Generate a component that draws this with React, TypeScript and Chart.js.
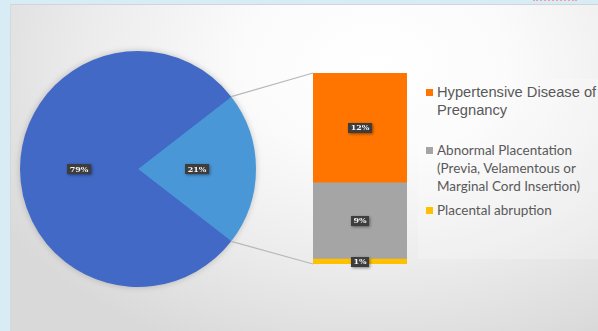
import React, { useEffect, useRef } from "react";
import { Chart, registerables } from "chart.js";

Chart.register(...registerables);

// ---- Data ----
const pieLabels = ["Selected causes", "Other"];
const pieValues = [21, 79];
const pieText = ["21%", "79%"];
const pieColors = ["#4a97d7", "#4169c5"];

const barCategories = [
  "Hypertensive Disease of Pregnancy",
  "Abnormal Placentation (Previa, Velamentous or Marginal Cord Insertion)",
  "Placental abruption",
];
const barValues = [12.1, 8.4, 0.55];
const barText = ["12%", "9%", "1%"];
const barColors = ["#ff7500", "#a5a5a5", "#ffc000"];
const legendLines = [
  ["Hypertensive Disease of", "Pregnancy"],
  ["Abnormal Placentation", "(Previa, Velamentous or", "Marginal Cord Insertion)"],
  ["Placental abruption"],
];

const W = 598;
const H = 331;

function drawTag(ctx: CanvasRenderingContext2D, text: string, x: number, y: number) {
  ctx.save();
  ctx.font = "bold 8px 'DejaVu Serif', 'Liberation Serif', serif";
  const tw = ctx.measureText(text).width;
  const bw = Math.round(tw + 5);
  const bh = 10;
  ctx.shadowColor = "rgba(0,0,0,0.45)";
  ctx.shadowBlur = 3;
  ctx.shadowOffsetX = 1;
  ctx.shadowOffsetY = 1;
  ctx.fillStyle = "#3d3d3d";
  ctx.fillRect(Math.round(x - bw / 2), Math.round(y - bh / 2), bw, bh);
  ctx.shadowColor = "transparent";
  ctx.fillStyle = "#f4f4f4";
  ctx.textAlign = "center";
  ctx.textBaseline = "middle";
  ctx.fillText(text, x, y + 0.5);
  ctx.restore();
}

export default function App() {
  const pieRef = useRef<HTMLCanvasElement | null>(null);
  const barRef = useRef<HTMLCanvasElement | null>(null);

  useEffect(() => {
    if (!pieRef.current || !barRef.current) return;

    const stackOrder = [2, 1, 0]; // bottom to top
    const barChart = new Chart(barRef.current, {
      type: "bar",
      data: {
        labels: [""],
        datasets: stackOrder.map((i) => ({
          label: barCategories[i],
          data: [barValues[i]],
          backgroundColor: barColors[i],
          borderWidth: 0,
          categoryPercentage: 1,
          barPercentage: 1,
        })),
      },
      options: {
        animation: false,
        responsive: false,
        devicePixelRatio: 1,
        layout: { padding: { left: 313, right: 191, top: 73, bottom: 67 } },
        scales: {
          x: { stacked: true, display: false },
          y: {
            stacked: true,
            display: false,
            min: 0,
            max: barValues.reduce((a, b) => a + b, 0),
          },
        },
        plugins: { legend: { display: false }, tooltip: { enabled: false } },
      },
      plugins: [
        {
          id: "barTags",
          afterDatasetsDraw(chart: any) {
            const ctx = chart.ctx;
            stackOrder.forEach((i, di) => {
              const el = chart.getDatasetMeta(di).data[0];
              const c = el.getCenterPoint();
              drawTag(ctx, barText[i], c.x, c.y);
            });
          },
        },
      ],
    });

    const pieChart = new Chart(pieRef.current, {
      type: "pie",
      data: {
        labels: pieLabels,
        datasets: [
          {
            data: pieValues,
            backgroundColor: pieColors,
            borderWidth: 0,
          },
        ],
      },
      options: {
        animation: false,
        responsive: false,
        devicePixelRatio: 1,
        rotation: 90 - (pieValues[0] / (pieValues[0] + pieValues[1])) * 180,
        layout: { padding: { left: 20, right: 342, top: 51, bottom: 44 } },
        plugins: { legend: { display: false }, tooltip: { enabled: false } },
      },
      plugins: [
        {
          id: "pieShadow",
          beforeDatasetsDraw(chart: any) {
            const ctx = chart.ctx;
            const arc = chart.getDatasetMeta(0).data[0];
            ctx.save();
            ctx.shadowColor = "rgba(0,0,0,0.28)";
            ctx.shadowBlur = 7;
            ctx.fillStyle = pieColors[1];
            ctx.beginPath();
            ctx.arc(arc.x, arc.y, arc.outerRadius - 1, 0, Math.PI * 2);
            ctx.fill();
            ctx.restore();
          },
          afterDatasetsDraw(chart: any) {
            const ctx = chart.ctx;
            const meta = chart.getDatasetMeta(0);
            const arc = meta.data[0];
            // connector lines to bar
            const topEl: any = barChart.getDatasetMeta(2).data[0];
            const botEl: any = barChart.getDatasetMeta(0).data[0];
            const left = topEl.x - topEl.width / 2;
            const p1 = {
              x: arc.x + Math.cos(arc.startAngle) * arc.outerRadius,
              y: arc.y + Math.sin(arc.startAngle) * arc.outerRadius,
            };
            const p2 = {
              x: arc.x + Math.cos(arc.endAngle) * arc.outerRadius,
              y: arc.y + Math.sin(arc.endAngle) * arc.outerRadius,
            };
            ctx.save();
            ctx.strokeStyle = "#b8b8b8";
            ctx.lineWidth = 1.2;
            ctx.beginPath();
            ctx.moveTo(p1.x, p1.y);
            ctx.lineTo(left, topEl.y);
            ctx.moveTo(p2.x, p2.y);
            ctx.lineTo(left, botEl.base);
            ctx.stroke();
            ctx.restore();
            meta.data.forEach((el: any, i: number) => {
              const p = el.tooltipPosition();
              drawTag(ctx, pieText[i], p.x, p.y);
            });
          },
        },
      ],
    });

    return () => {
      pieChart.destroy();
      barChart.destroy();
    };
  }, []);

  const legendOrder = [0, 1, 2];
  const legendTops = [83, 141, 201];

  return (
    <div
      style={{
        position: "fixed",
        left: 0,
        top: 0,
        width: W,
        height: H,
        overflow: "hidden",
        background: "#d8ecf5",
      }}
    >
      <div
        style={{
          position: "absolute",
          left: 533,
          top: -1,
          width: 44,
          height: 0,
          borderTop: "2px dotted #f2a0a0",
        }}
      />
      <div
        style={{
          position: "absolute",
          left: 10,
          top: 4,
          width: W - 10,
          height: H - 4,
          boxSizing: "border-box",
          borderTop: "1px solid #cfd6da",
          borderLeft: "1px solid #d3d9dc",
          background:
            "radial-gradient(ellipse 75% 95% at 62% 18%, #ffffff 0%, #fbfbfb 30%, #ececec 65%, #d9d9d9 100%)",
        }}
      />
      <div
        style={{
          position: "absolute",
          left: 418,
          top: 79,
          width: 180,
          height: 180,
          background: "rgba(255,255,255,0.22)",
        }}
      />
      {legendOrder.map((i, k) => (
        <div
          key={i}
          style={{
            position: "absolute",
            left: 426,
            top: legendTops[k],
            width: 172,
            fontFamily:
              k === 0 ? "'Liberation Sans', Arial, sans-serif" : "Lato, 'Open Sans', sans-serif",
            fontSize: k === 0 ? 14.7 : 13.5,
            lineHeight: "18px",
            color: "#595959",
            whiteSpace: "nowrap",
          }}
        >
          <span
            style={{
              position: "absolute",
              left: 0,
              top: 6,
              width: 7,
              height: 7,
              background: barColors[i],
            }}
          />
          <div style={{ marginLeft: 11 }}>
            {legendLines[i].map((t, j) => (
              <div key={j}>{t}</div>
            ))}
          </div>
        </div>
      ))}
      <canvas
        ref={pieRef}
        width={W}
        height={H}
        style={{ position: "absolute", left: 0, top: 0, width: W, height: H }}
      />
      <canvas
        ref={barRef}
        width={W}
        height={H}
        style={{ position: "absolute", left: 0, top: 0, width: W, height: H }}
      />
    </div>
  );
}
